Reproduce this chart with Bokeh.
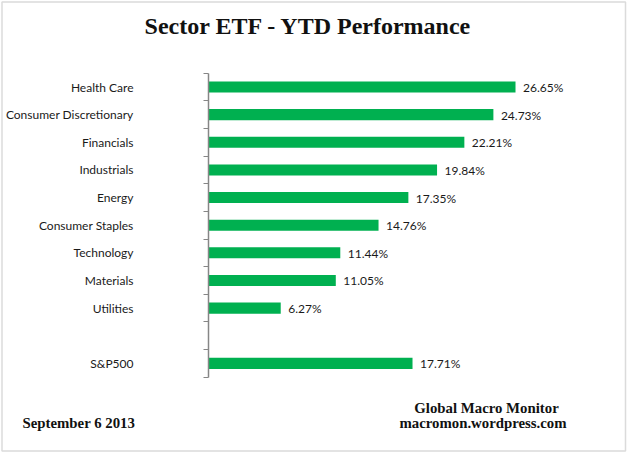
from bokeh.plotting import figure
from bokeh.models import Range1d, FixedTicker, Label, BoxAnnotation, ColumnDataSource
from bokeh.core.properties import value
from bokeh.embed import file_html
from bokeh.resources import INLINE

# ---- data ----
sectors = ["Health Care", "Consumer Discretionary", "Financials", "Industrials",
           "Energy", "Consumer Staples", "Technology", "Materials", "Utilities"]
sector_returns = [26.65, 24.73, 22.21, 19.84, 17.35, 14.76, 11.44, 11.05, 6.27]
benchmark = "S&P500"
benchmark_return = 17.71
title_text = "Sector ETF - YTD  Performance"
date_text = "September 6 2013"
source_lines = ["Global Macro Monitor", "macromon.wordpress.com"]

names = sectors + [benchmark]
returns = sector_returns + [benchmark_return]
n = len(sectors)
ypos = [n + 1 - i for i in range(n)] + [0]
labels = ["%.2f%%" % v for v in returns]

# ---- geometry (pixels inside the canvas) ----
W, H = 627, 453
AXIS_PX = 208          # pixel column of the category axis
XPX = 11.52            # pixels per percentage point
TOP_CAT_PX = 86.5      # pixel row of the first category centre
SLOT_PX = 27.64        # pixels per category slot

x0 = -AXIS_PX / XPX
x1 = (W - AXIS_PX) / XPX
y_top = (n + 1) + TOP_CAT_PX / SLOT_PX
y_bot = y_top - H / SLOT_PX

def dx(px):
    return x0 + px / XPX

def dy(py):
    return y_top - py / SLOT_PX

p = figure(width=W, height=H, x_range=Range1d(x0, x1), y_range=Range1d(y_bot, y_top),
           x_axis_location=None, toolbar_location=None, output_backend="svg",
           min_border_left=0, min_border_right=0, min_border_top=0, min_border_bottom=0)
p.outline_line_color = None
p.xgrid.visible = False
p.ygrid.visible = False
p.background_fill_color = "white"
p.border_fill_color = "white"

src = ColumnDataSource(dict(y=ypos, ret=returns, name=names, lbl=labels))
p.hbar(y="y", left=0, right="ret", height=0.4, fill_color="#00B050", line_color=None, source=src)
p.text(x="ret", y="y", text="lbl", x_offset=7.5, y_offset=0.5, text_baseline="middle",
       text_align="left", text_font=value("Lato"), text_font_size="12px",
       text_color="#1a1a1a", source=src)

ax = p.yaxis[0]
ax.fixed_location = 0
ax.bounds = (-0.5, n + 1.5)
ax.ticker = FixedTicker(ticks=ypos, minor_ticks=[k - 0.5 for k in range(n + 3)])
ax.major_label_overrides = {float(y): nm for y, nm in zip(ypos, names)}
ax.major_tick_out = 0
ax.major_tick_in = 0
ax.minor_tick_out = 5
ax.minor_tick_in = 0
ax.minor_tick_line_color = "#868686"
ax.axis_line_color = "#868686"
ax.axis_line_width = 1.5
ax.major_label_standoff = 70
ax.major_label_text_font = "Lato"
ax.major_label_text_font_size = "12px"
ax.major_label_text_color = "#1a1a1a"

def lab(text, px, py, size, align):
    p.add_layout(Label(x=dx(px), y=dy(py), text=text, text_align=align, text_baseline="middle",
                       text_font="Liberation Serif", text_font_style="bold",
                       text_font_size=size, text_color="#111111"))

lab(title_text, 311, 25, "24px", "center")
lab(date_text, 22, 422, "14.8px", "left")
lab(source_lines[0], 486, 407, "14.8px", "center")
lab(source_lines[1], 482.5, 422, "14.8px", "center")

p.add_layout(BoxAnnotation(left=dx(1.5), right=dx(625), top=dy(1.5), bottom=dy(450.5),
                           fill_alpha=0, line_color="#898989", line_width=1.5))

open("out.html", "w").write(file_html(p, INLINE))
